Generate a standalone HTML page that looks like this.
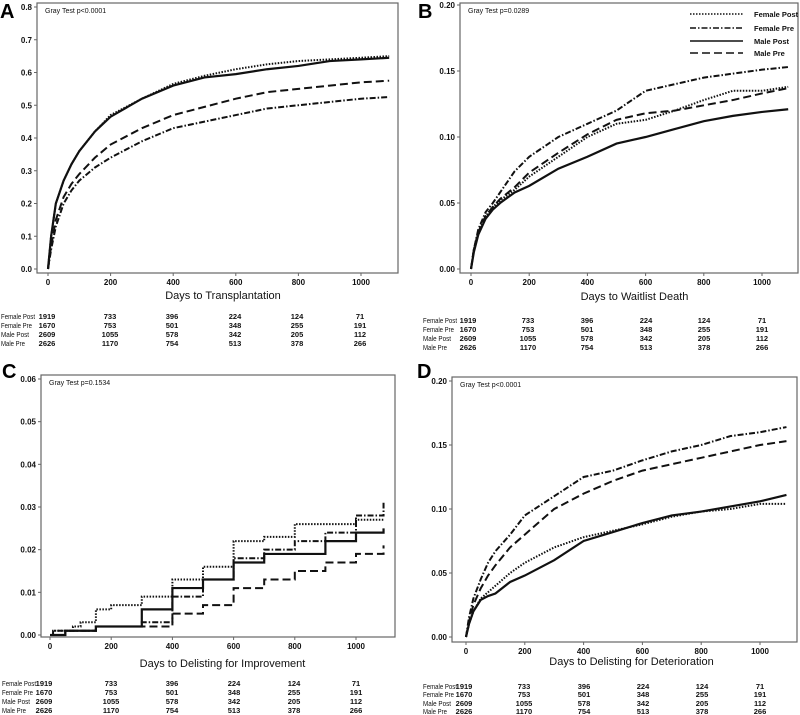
<!DOCTYPE html>
<html><head><meta charset="utf-8">
<style>
html,body{margin:0;padding:0;background:#fff;}
svg{display:block;font-family:"Liberation Sans",sans-serif;}
.tk{font-size:8px;font-weight:bold;fill:#111;}
.at{font-size:11px;fill:#111;}
.tb{font-size:7.5px;font-weight:bold;fill:#111;}
.nm{font-size:7px;fill:#111;}
.pl{font-size:20px;font-weight:bold;fill:#000;}
.gt{font-size:7px;fill:#111;}
</style></head>
<body>
<svg id="chart" width="800" height="715" viewBox="0 0 800 715"></svg>
<script>
const days=[0,10,25,50,75,100,150,200,300,400,500,600,700,800,900,1000,1090];
const seriesNames=["Female Post","Female Pre","Male Post","Male Pre"];
const xTicks=[0,200,400,600,800,1000];
const riskRows=[[1919,733,396,224,124,71],[1670,753,501,348,255,191],[2609,1055,578,342,205,112],[2626,1170,754,513,378,266]];
// Panel A
const aFPost=[0,0.1,0.2,0.27,0.32,0.36,0.42,0.47,0.52,0.565,0.59,0.61,0.625,0.635,0.64,0.645,0.65];
const aFPre=[0,0.06,0.13,0.2,0.24,0.27,0.31,0.34,0.39,0.43,0.45,0.47,0.49,0.5,0.51,0.52,0.525];
const aMPost=[0,0.1,0.2,0.27,0.32,0.36,0.42,0.465,0.52,0.56,0.585,0.595,0.61,0.62,0.635,0.64,0.645];
const aMPre=[0,0.07,0.15,0.22,0.26,0.29,0.34,0.38,0.43,0.47,0.495,0.52,0.54,0.55,0.56,0.57,0.575];
const aTicks=["0.0","0.1","0.2","0.3","0.4","0.5","0.6","0.7","0.8"];
// Panel B
const bFPost=[0,0.015,0.028,0.04,0.047,0.052,0.06,0.07,0.085,0.1,0.11,0.113,0.12,0.128,0.135,0.135,0.138];
const bFPre=[0,0.015,0.03,0.043,0.05,0.058,0.074,0.085,0.1,0.11,0.12,0.135,0.14,0.145,0.148,0.151,0.153];
const bMPost=[0,0.013,0.026,0.038,0.045,0.05,0.058,0.063,0.076,0.085,0.095,0.1,0.106,0.112,0.116,0.119,0.121];
const bMPre=[0,0.015,0.028,0.04,0.047,0.053,0.062,0.073,0.088,0.102,0.113,0.118,0.12,0.124,0.128,0.133,0.137];
const bTicks=["0.00","0.05","0.10","0.15","0.20"];
// Panel C
const cFPost=[0,0.001,0.001,0.001,0.002,0.003,0.006,0.007,0.009,0.013,0.016,0.022,0.023,0.026,0.026,0.027,0.027];
const cFPre=[0,0.001,0.001,0.001,0.001,0.001,0.002,0.002,0.003,0.009,0.013,0.018,0.02,0.022,0.024,0.028,0.031];
const cMPost=[0,0,0,0.001,0.001,0.001,0.002,0.002,0.006,0.011,0.013,0.017,0.019,0.019,0.022,0.024,0.025];
const cMPre=[0,0,0,0.001,0.001,0.001,0.002,0.002,0.002,0.005,0.007,0.011,0.013,0.015,0.017,0.019,0.021];
const cTicks=["0.00","0.01","0.02","0.03","0.04","0.05","0.06"];
// Panel D
const dFPost=[0,0.01,0.02,0.03,0.035,0.04,0.05,0.058,0.07,0.078,0.083,0.088,0.094,0.098,0.1,0.104,0.104];
const dFPre=[0,0.015,0.03,0.045,0.058,0.067,0.08,0.095,0.11,0.125,0.13,0.138,0.145,0.15,0.157,0.16,0.164];
const dMPost=[0,0.01,0.02,0.029,0.032,0.034,0.043,0.048,0.06,0.075,0.082,0.089,0.095,0.098,0.102,0.106,0.111];
const dMPre=[0,0.012,0.025,0.038,0.048,0.056,0.07,0.08,0.1,0.112,0.122,0.13,0.135,0.14,0.145,0.15,0.153];
const dTicks=["0.00","0.05","0.10","0.15","0.20"];

const NS="http://www.w3.org/2000/svg";
const svg=document.getElementById('chart');
function mk(tag,attrs,parent,text){const e=document.createElementNS(NS,tag);for(const k in attrs)e.setAttribute(k,attrs[k]);if(text!==undefined)e.textContent=text;(parent||svg).appendChild(e);return e;}
const dashes=["1.5,1.5","6,2,1.5,2",null,"8,4"];
const seriesKeys=["female-post","female-pre","male-post","male-pre"];
const nameWidths=[34,31,28,24];

const panels=[
 {id:"a",letter:"A",lx:0,ly:18,box:[37,3,398,273],x0:48,x1:361,y0:269,y1:7,ymax:0.8,ticks:aTicks,series:[aFPost,aFPre,aMPost,aMPre],step:false,
  title:"Days to Transplantation",ty:299,gray:"Gray Test p<0.0001",rows:[319,328,337,346],nx:1,cols:[47,110,172,235,297,360]},
 {id:"b",letter:"B",lx:418,ly:18,box:[460,3,798,273],x0:471,x1:762,y0:269,y1:5,ymax:0.2,ticks:bTicks,series:[bFPost,bFPre,bMPost,bMPre],step:false,
  title:"Days to Waitlist Death",ty:300,gray:"Gray Test p=0.0289",rows:[323,332,341,350],nx:423,cols:[468,528,587,646,704,762],legend:true},
 {id:"c",letter:"C",lx:2,ly:378,box:[41,375,395,637],x0:50,x1:356,y0:635,y1:379,ymax:0.06,ticks:cTicks,series:[cFPost,cFPre,cMPost,cMPre],step:true,
  title:"Days to Delisting for Improvement",ty:667,gray:"Gray Test p=0.1534",rows:[686,695,704,713],nx:2,cols:[44,111,172,234,294,356]},
 {id:"d",letter:"D",lx:417,ly:378,box:[452,377,797,642],x0:466,x1:760,y0:637,y1:381,ymax:0.2,ticks:dTicks,series:[dFPost,dFPre,dMPost,dMPre],step:false,
  title:"Days to Delisting for Deterioration",ty:665,gray:"Gray Test p<0.0001",rows:[689,697,706,714],nx:423,cols:[464,524,584,643,702,760]}
];

panels.forEach(p=>{
  const g=mk('g',{});
  
  
  const sx=d=>p.x0+(p.x1-p.x0)*d/1000;
  const sy=v=>p.y0-(p.y0-p.y1)*v/p.ymax;
  const L=mk('text',{x:p.lx,y:p.ly,class:'pl'},g,p.letter);
  
  
  const [bx0,by0,bx1,by1]=p.box;
  const fr=mk('rect',{x:bx0,y:by0,width:bx1-bx0,height:by1-by0,fill:'none',stroke:'#666','stroke-width':1.2},g);
  
  
  const gt=mk('text',{x:bx0+8,y:by0+10,class:'gt'},g,p.gray);
  
  
  p.ticks.forEach((t,i)=>{
    const v=p.ymax*i/(p.ticks.length-1);const y=sy(v);
    mk('line',{x1:bx0-3,x2:bx0,y1:y,y2:y,stroke:'#666'},g);
    const tl=mk('text',{x:bx0-5,y:y+3,class:'tk','text-anchor':'end'},g,t);
    
    
  });
  xTicks.forEach(t=>{
    const x=sx(t);
    mk('line',{x1:x,x2:x,y1:by1,y2:by1+3,stroke:'#666'},g);
    const tl=mk('text',{x:x,y:by1+12,class:'tk','text-anchor':'middle'},g,String(t));
    
    
  });
  const at=mk('text',{x:(sx(0)+bx1)/2,y:p.ty,class:'at','text-anchor':'middle'},g,p.title);
  
  
  p.series.forEach((s,si)=>{
    let d='';
    s.forEach((v,i)=>{
      const x=sx(days[i]),y=sy(v);
      if(i===0)d+='M'+x+','+y;
      else if(p.step)d+='H'+x+'V'+y;
      else d+='L'+x+','+y;
    });
    const a={d:d,fill:'none',stroke:'#111','stroke-width':si===2?2.2:2};
    if(dashes[si])a['stroke-dasharray']=dashes[si];
    const pa=mk('path',a,g);
    
    
  });
  riskRows.forEach((row,ri)=>{
    const n=mk('text',{x:p.nx,y:p.rows[ri],class:'nm',textLength:nameWidths[ri],lengthAdjust:'spacingAndGlyphs'},g,seriesNames[ri]);
    
    
    row.forEach((v,ci)=>{
      const c=mk('text',{x:p.cols[ci],y:p.rows[ri],class:'tb','text-anchor':'middle'},g,String(v));
      
      
    });
  });
  if(p.legend){
    const ly=[14,28,41,53];
    seriesNames.forEach((nm,i)=>{
      const a={x1:690,x2:743,y1:ly[i],y2:ly[i],stroke:'#111','stroke-width':1.6};
      if(dashes[i])a['stroke-dasharray']=dashes[i];
      const ln=mk('line',a,g);
      
      
      const lt=mk('text',{x:754,y:ly[i]+3,class:'tb'},g,nm);
      
      
    });
  }
});
</script>
</body></html>
